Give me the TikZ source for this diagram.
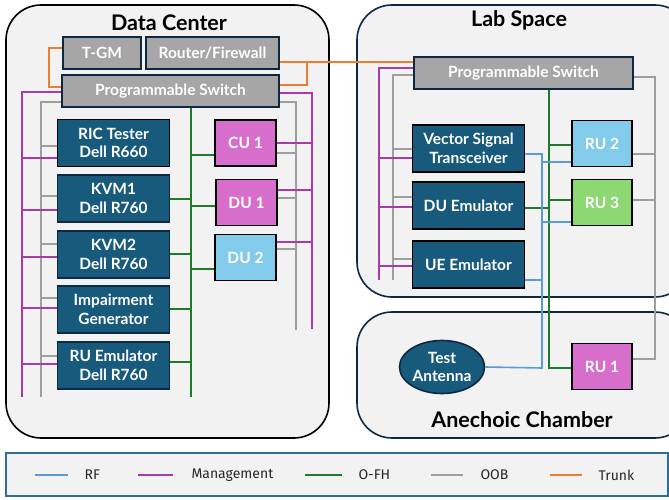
\documentclass[tikz,border=0pt]{standalone}
\usepackage{fontspec}
\setmainfont{Lato}
\newfontfamily\legendfont{Fira Sans}
\usetikzlibrary{shapes.geometric}

\definecolor{areagray}{HTML}{F2F2F2}
\definecolor{boxblue}{HTML}{185A7C}
\definecolor{boxgray}{HTML}{A6A6A6}
\definecolor{boxpink}{HTML}{D86ECC}
\definecolor{boxsky}{HTML}{83CBEB}
\definecolor{boxlime}{HTML}{8ED873}
\definecolor{navy}{HTML}{0E2841}
\definecolor{mgmtcol}{HTML}{A83BA8}
\definecolor{ofhcol}{HTML}{217A2B}
\definecolor{rfcol}{HTML}{5B9BD5}
\definecolor{oobcol}{HTML}{9E9E9E}
\definecolor{trunkcol}{HTML}{ED7D31}
\definecolor{legendcol}{HTML}{2E6E96}

\begin{document}
\begin{tikzpicture}[x=1pt, y=-1pt]
    % styles for areas, boxes and links
    \tikzstyle{area} = [line width=1.6pt, fill=areagray, rounded corners=35pt]
    \tikzstyle{title} = [font=\bfseries\fontsize{21.5}{25}\selectfont, text=black]
    \tikzstyle{server} = [rectangle, minimum width=112pt, minimum height=47pt, align=center, draw=navy, line width=1.6pt, fill=boxblue, text=white, font=\bfseries\fontsize{15.5}{18.5}\selectfont]
    \tikzstyle{netbox} = [rectangle, minimum height=32pt, align=center, draw=navy, line width=1.6pt, fill=boxgray, text=white, font=\bfseries\fontsize{15.5}{18.5}\selectfont]
    \tikzstyle{unit} = [rectangle, minimum width=61pt, minimum height=46pt, align=center, draw=black, line width=1.8pt, text=white, font=\bfseries\fontsize{15.5}{18.5}\selectfont]
    \tikzstyle{rf} = [line width=1.6pt, draw=rfcol]
    \tikzstyle{mgmt} = [line width=1.6pt, draw=mgmtcol]
    \tikzstyle{ofh} = [line width=1.6pt, draw=ofhcol]
    \tikzstyle{oob} = [line width=1.6pt, draw=oobcol]
    \tikzstyle{trunk} = [line width=1.6pt, draw=trunkcol]
    \tikzstyle{legtext} = [anchor=west, font=\legendfont\fontsize{14}{17}\selectfont, text=black!85]

    \clip (0,0) rectangle (669,500);

    % areas
    \draw [area, draw=black] (6,5) rectangle (329,438);
    \draw [area, draw=navy] (357,5) rectangle (690,297);
    \draw [area, draw=navy] (357,312) rectangle (690,438);
    \node [title] (dctitle) at (169,23) {Data Center};
    \node [title] (labtitle) at (519,20) {Lab Space};
    \node [title] (chtitle) at (522,420) {Anechoic Chamber};

    % data center boxes
    \node [netbox, minimum width=78pt] (tgm) at (102,53) {T-GM};
    \node [netbox, minimum width=133pt] (router) at (212.5,53) {Router/Firewall};
    \node [netbox, minimum width=217pt] (sw1) at (170.5,91) {Programmable Switch};
    \node [server, draw=black] (ric) at (113.5,143) {RIC Tester\\Dell R660};
    \node [server] (kvm1) at (113.5,198.5) {KVM1\\Dell R760};
    \node [server] (kvm2) at (113.5,254.5) {KVM2\\Dell R760};
    \node [server] (imp) at (113.5,309.5) {Impairment\\Generator};
    \node [server] (ruem) at (113.5,365.5) {RU Emulator\\Dell R760};
    \node [unit, fill=boxpink] (cu1) at (245.5,143) {CU 1};
    \node [unit, fill=boxpink] (du1) at (246.5,202.5) {DU 1};
    \node [unit, fill=boxsky] (du2) at (245.5,257.5) {DU 2};

    % lab space and chamber boxes
    \node [netbox, minimum width=219pt] (sw2) at (523.5,73) {Programmable Switch};
    \node [server, draw=black] (vst) at (468.5,148.5) {Vector Signal\\Transceiver};
    \node [server, draw=black] (duem) at (468.5,205.5) {DU Emulator};
    \node [server, draw=black] (ueem) at (468.5,264.5) {UE Emulator};
    \node [unit, minimum width=60pt, fill=boxsky] (ru2) at (602,143.5) {RU 2};
    \node [unit, minimum width=60pt, fill=boxlime] (ru3) at (602,202.5) {RU 3};
    \node [unit, minimum width=60pt, fill=boxpink] (ru1) at (602,366.5) {RU 1};
    \node [ellipse, minimum width=85pt, minimum height=53pt, inner sep=0pt, align=center, draw=navy, line width=1.6pt, fill=boxblue, text=white, font=\bfseries\fontsize{15.5}{18.5}\selectfont] (ant) at (442,367) {Test\\Antenna};

    % bus ends
    \coordinate (oobL) at (41,397);
    \coordinate (mgL) at (22,397);
    \coordinate (fhDC) at (191,397);
    \coordinate (oobR) at (296,330);
    \coordinate (mgR) at (312,329);
    \coordinate (oobLab) at (393,280);
    \coordinate (mgLab) at (379,280);
    \coordinate (oobRU) at (655,359);
    \coordinate (fhLab) at (549,368);
    \coordinate (rfLab) at (542,368);

    % trunk
    \draw [trunk] (tgm.west |- 0,48) -- ++(-13,0) |- (sw1.west |- 0,87);
    \draw [trunk] (router.east |- 0,62) -- (sw2.west |- 0,62);
    \draw [trunk] (sw1.east |- 0,85) -- ++(27,0) -- ++(0,-23);

    % data center OOB
    \draw [oob] (sw1.west |- 0,102) -| (oobL);
    \draw [oob] (ric.west |- 0,146) -- (oobL |- 0,146);
    \draw [oob] (kvm1.west |- 0,196) -- (oobL |- 0,196);
    \draw [oob] (kvm2.west |- 0,244) -- (oobL |- 0,244);
    \draw [oob] (imp.west |- 0,298) -- (oobL |- 0,298);
    \draw [oob] (ruem.west |- 0,356) -- (oobL |- 0,356);
    \draw [oob] (sw1.east |- 0,102) -| (oobR);
    \draw [oob] (cu1.east |- 0,153) -- (oobR |- 0,153);
    \draw [oob] (du1.east |- 0,198) -- (oobR |- 0,198);
    \draw [oob] (du2.east |- 0,249) -- (oobR |- 0,249);

    % data center management
    \draw [mgmt] (sw1.west |- 0,92) -| (mgL);
    \draw [mgmt] (ric.west |- 0,158) -- (mgL |- 0,158);
    \draw [mgmt] (kvm1.west |- 0,210) -- (mgL |- 0,210);
    \draw [mgmt] (kvm2.west |- 0,257) -- (mgL |- 0,257);
    \draw [mgmt] (imp.west |- 0,308) -- (mgL |- 0,308);
    \draw [mgmt] (ruem.west |- 0,364) -- (mgL |- 0,364);
    \draw [mgmt] (sw1.east |- 0,93) -| (mgR);
    \draw [mgmt] (cu1.east |- 0,143) -- (mgR |- 0,143);
    \draw [mgmt] (du1.east |- 0,190) -- (mgR |- 0,190);
    \draw [mgmt] (du2.east |- 0,242) -- (mgR |- 0,242);

    % data center fronthaul
    \draw [ofh] (fhDC |- sw1.south) -- (fhDC);
    \draw [ofh] (cu1.west |- 0,155) -- (fhDC |- 0,155);
    \draw [ofh] (kvm1.east |- 0,199) -- (fhDC |- 0,199);
    \draw [ofh] (du1.west |- 0,206) -- (fhDC |- 0,206);
    \draw [ofh] (kvm2.east |- 0,254) -- (fhDC |- 0,254);
    \draw [ofh] (du2.west |- 0,269) -- (fhDC |- 0,269);
    \draw [ofh] (imp.east |- 0,309) -- (fhDC |- 0,309);
    \draw [ofh] (ruem.east |- 0,362) -- (fhDC |- 0,362);

    % lab OOB
    \draw [oob] (sw2.west |- 0,75) -| (oobLab);
    \draw [oob] (vst.west |- 0,149) -- (oobLab |- 0,149);
    \draw [oob] (duem.west |- 0,197) -- (oobLab |- 0,197);
    \draw [oob] (ueem.west |- 0,259) -- (oobLab |- 0,259);
    \draw [oob] (sw2.east |- 0,77) -| (oobRU) -- (ru1.east |- oobRU);
    \draw [oob] (ru2.east |- 0,154) -- (oobRU |- 0,154);
    \draw [oob] (ru3.east |- 0,200) -- (oobRU |- 0,200);

    % lab management
    \draw [mgmt] (sw2.west |- 0,68) -| (mgLab);
    \draw [mgmt] (vst.west |- 0,158) -- (mgLab |- 0,158);
    \draw [mgmt] (duem.west |- 0,207) -- (mgLab |- 0,207);
    \draw [mgmt] (ueem.west |- 0,266) -- (mgLab |- 0,266);

    % lab fronthaul
    \draw [ofh] (fhLab |- sw2.south) -- (fhLab) -- (ru1.west |- fhLab);
    \draw [ofh] (ru2.west |- 0,145) -- ([xshift=-1pt]fhLab |- 0,145);
    \draw [ofh] (ru3.west |- 0,200) -- (fhLab |- 0,200);
    \draw [ofh] (duem.east |- 0,208) -- (fhLab |- 0,208);

    % RF
    \draw [rf] (vst.east |- 0,154) -| (rfLab) -- (ant.east);
    \draw [rf] (ru2.west |- 0,162) -- (rfLab |- 0,162);
    \draw [rf] (ru3.west |- 0,222) -- (rfLab |- 0,222);
    \draw [rf] (ueem.east |- 0,280) -- (rfLab |- 0,280);

    % legend
    \draw [line width=1.6pt, draw=legendcol, fill=areagray] (6,453) rectangle (668,496);
    \node [legtext] (lgrf) at (81,475) {RF};
    \node [legtext] (lgmgmt) at (188,475) {Management};
    \node [legtext] (lgofh) at (355,475) {O-FH};
    \node [legtext] (lgoob) at (477,475) {OOB};
    \node [legtext] (lgtrunk) at (595,475) {Trunk};
    \draw [rf] ([xshift=-13pt]lgrf.west) -- ++(-33,0);
    \draw [mgmt] ([xshift=-15pt]lgmgmt.west) -- ++(-35,0);
    \draw [ofh] ([xshift=-13pt]lgofh.west) -- ++(-37,0);
    \draw [oob] ([xshift=-14pt]lgoob.west) -- ++(-32,0);
    \draw [trunk] ([xshift=-13pt]lgtrunk.west) -- ++(-32,0);
\end{tikzpicture}
\end{document}
